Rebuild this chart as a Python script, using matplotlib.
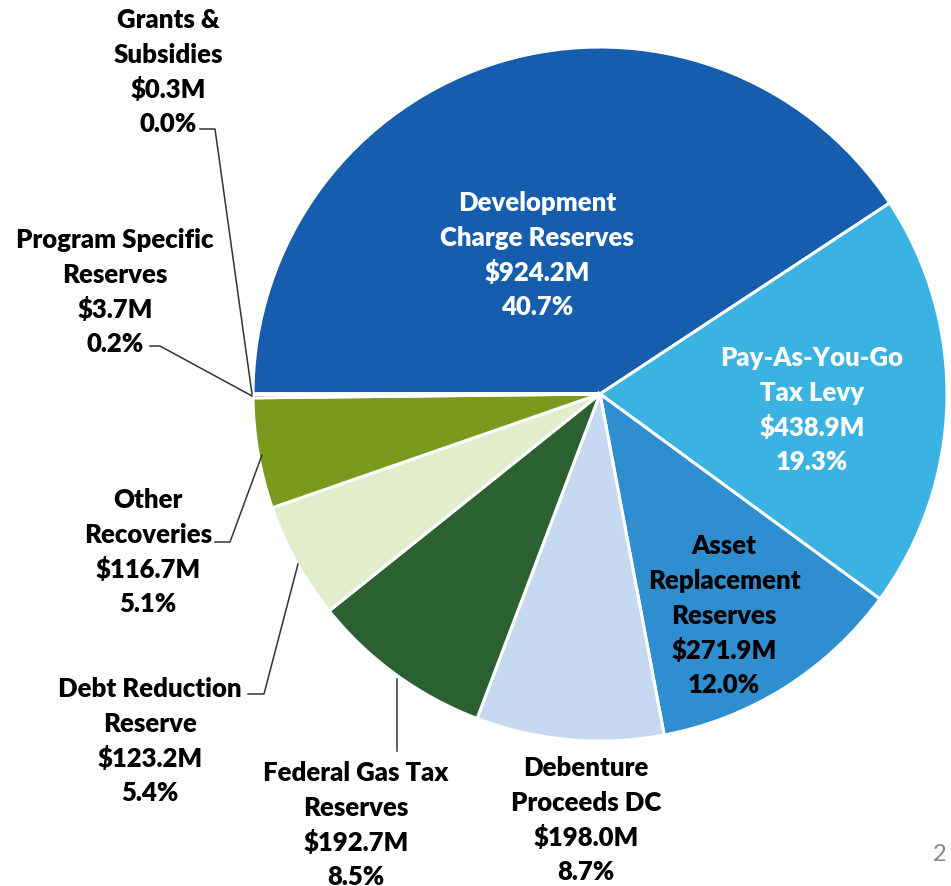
import matplotlib
matplotlib.use("Agg")
import matplotlib.pyplot as plt

categories = ["Development\nCharge Reserves", "Pay-As-You-Go\nTax Levy", "Asset\nReplacement\nReserves",
              "Debenture\nProceeds DC", "Federal Gas Tax\nReserves", "Debt Reduction\nReserve",
              "Other\nRecoveries", "Program Specific\nReserves", "Grants &\nSubsidies"]
values = [924.2, 438.9, 271.9, 198.0, 192.7, 123.2, 116.7, 3.7, 0.3]
value_labels = ["$924.2M", "$438.9M", "$271.9M", "$198.0M", "$192.7M", "$123.2M", "$116.7M", "$3.7M", "$0.3M"]
pct_labels = ["40.7%", "19.3%", "12.0%", "8.7%", "8.5%", "5.4%", "5.1%", "0.2%", "0.0%"]
colors = ["#165EAD", "#3AB3E3", "#2E8ECF", "#C6D9F0", "#2B6131", "#E2EDCB", "#7A9A1D", "#4F6228", "#1F497D"]

W, H = 951, 887
fig = plt.figure(figsize=(W / 100, H / 100), dpi=100)
ax = fig.add_axes([0, 0, 1, 1])

def Y(y):
    return H - y

ax.pie(values, colors=colors, startangle=180, counterclock=False,
       center=(600, Y(395)), radius=347, frame=True,
       wedgeprops=dict(edgecolor="white", linewidth=2.2))
ax.set_xlim(0, W)
ax.set_ylim(0, H)
ax.set_aspect("equal")
ax.axis("off")

font = dict(family=["Lato", "DejaVu Sans"], fontweight="heavy", fontsize=18.5, ha="center", va="center")

# label anchor positions (pixel coords of first line), text color
label_pos = [(537, 203, "white"), (812, 358, "white"), (724, 546, "black"), (586, 768, "black"),
             (356, 773, "black"), (150, 689, "black"), (148, 500, "black"), (115, 240, "black"),
             (168, 20, "black")]
spacing = 34.8
for cat, val, pct, (x, y, c) in zip(categories, value_labels, pct_labels, label_pos):
    lines = cat.split("\n") + [val, pct]
    for i, ln in enumerate(lines):
        ax.text(x, Y(y + i * spacing), ln, color=c, **font)

# leader lines
leaders = [
    [(200, 130), (215, 130), (252, 395)],   # Grants
    [(150, 347), (160, 347), (252, 397)],   # Program specific
    [(215, 543), (230, 543), (262, 456)],   # Other recoveries
    [(248, 695), (264, 695), (298, 565)],   # Debt reduction
    [(397, 680), (397, 752)],               # Federal gas tax
]
for pts in leaders:
    ax.plot([p[0] for p in pts], [Y(p[1]) for p in pts], color="#333333", lw=1.1)

ax.text(940, Y(855), "2", color="#888888", fontsize=17, ha="center", va="center",
        family=["Lato", "DejaVu Sans"])

fig.savefig("out.png", dpi=100)
